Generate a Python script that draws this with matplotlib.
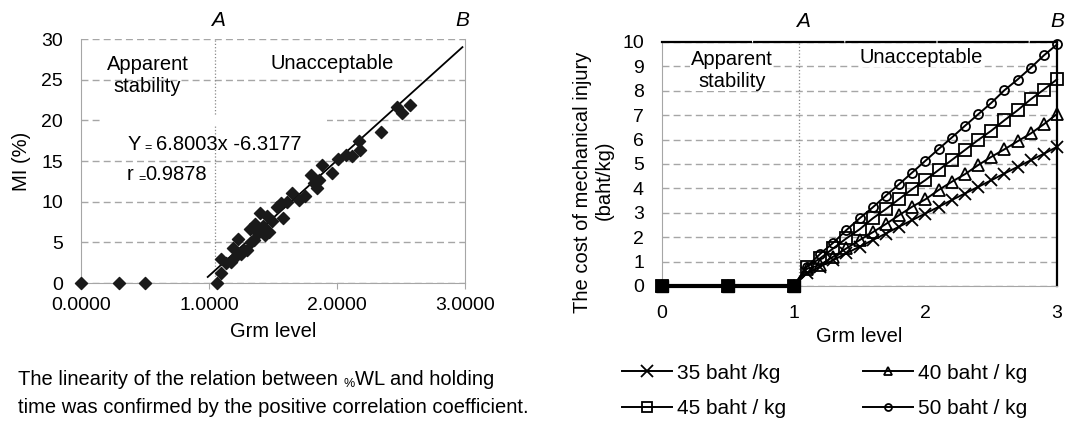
import matplotlib
matplotlib.use("Agg")
import matplotlib.pyplot as plt
from matplotlib.lines import Line2D

plt.rcParams['font.family'] = ['Liberation Sans', 'DejaVu Sans']

# ---------------- data ----------------
mi_x = [0.0, 0.294, 0.499, 1.065, 1.09, 1.09, 1.13, 1.17, 1.19, 1.21, 1.23, 1.25, 1.27, 1.30,
        1.32, 1.33, 1.35, 1.36, 1.38, 1.40, 1.41, 1.42, 1.44, 1.45, 1.47, 1.49, 1.53, 1.56,
        1.58, 1.61, 1.65, 1.70, 1.75, 1.80, 1.82, 1.84, 1.86, 1.88, 1.96, 2.01, 2.07, 2.12,
        2.17, 2.18, 2.34, 2.47, 2.51, 2.57]
mi_y = [0, 0, 0, 0, 1.2, 2.9, 2.4, 2.6, 4.3, 3.3, 5.4, 3.6, 4.0, 4.1, 6.6, 5.0, 5.3, 7.2,
        6.1, 8.6, 6.4, 7.0, 5.9, 8.2, 6.3, 7.6, 9.4, 9.8, 8.0, 10.0, 11.1, 10.2, 10.7, 13.3,
        12.3, 11.7, 12.7, 14.5, 13.5, 15.2, 15.7, 15.6, 17.4, 16.4, 18.6, 21.7, 20.9, 21.9]
trend_x = [0.99, 2.98]
trend_y = [0.74, 29.0]
left_xticks = [0.0, 1.0, 2.0, 3.0]
left_xticklabels = ['0.0000', '1.0000', '2.0000', '3.0000']
left_yticks = [0, 5, 10, 15, 20, 25, 30]
boundary_a = 1.05

grm = [0, 0.5, 1.0, 1.1, 1.2, 1.3, 1.4, 1.5, 1.6, 1.7, 1.8, 1.9, 2.0,
       2.1, 2.2, 2.3, 2.4, 2.5, 2.6, 2.7, 2.8, 2.9, 3.0]
cost_35 = [0, 0, 0, 0.52, 0.79, 1.06, 1.34, 1.61, 1.88, 2.15, 2.43, 2.70, 2.97,
           3.24, 3.52, 3.79, 4.06, 4.33, 4.61, 4.88, 5.15, 5.42, 5.70]
cost_40 = [0, 0, 0, 0.70, 0.86, 1.20, 1.54, 1.88, 2.20, 2.54, 2.90, 3.25, 3.55,
           3.93, 4.27, 4.58, 4.95, 5.29, 5.60, 5.93, 6.25, 6.63, 7.05]
cost_45 = [0, 0, 0, 0.79, 1.13, 1.54, 1.95, 2.32, 2.77, 3.15, 3.56, 3.97, 4.34,
           4.75, 5.16, 5.57, 5.98, 6.36, 6.79, 7.20, 7.65, 8.05, 8.47]
cost_50 = [0, 0, 0, 0.79, 1.31, 1.77, 2.29, 2.77, 3.22, 3.70, 4.17, 4.65, 5.13,
           5.61, 6.08, 6.56, 7.03, 7.50, 8.02, 8.46, 8.94, 9.45, 9.90]
series_labels = ['35 baht /kg', '40 baht / kg', '45 baht / kg', '50 baht / kg']
series_markers = ['x', '^', 's', 'o']
right_xticks = [0, 1, 2, 3]
right_yticks = list(range(0, 11))

# ---------------- figure ----------------
W, H = 1067, 421
fig = plt.figure(figsize=(W / 100, H / 100), dpi=100)

def box(l, t, r, b):
    return [l / W, 1 - b / H, (r - l) / W, (b - t) / H]

FS = 14.5
grid_c = '#a6a6a6'


def composite(ax, x, y, parts, transform):
    """Draw consecutive text pieces (text, size, gap in points) on one baseline."""
    s0, f0, _ = parts[0]
    prev = ax.text(x, y, s0, fontsize=f0, va='baseline', ha='left', transform=transform)
    big = f0
    for s, f, gap in parts[1:]:
        shift = 0.21 * (f - big) * 0.6
        prev = ax.annotate(s, xy=(1, 0), xycoords=prev, xytext=(gap, shift),
                           textcoords='offset points', fontsize=f, va='bottom', ha='left',
                           annotation_clip=False)
        big = f
    return prev


# ---------- left panel ----------
ax1 = fig.add_axes(box(81, 39, 465, 283))
ax1.set_xlim(0, 3)
ax1.set_ylim(0, 30)
ax1.set_xticks(left_xticks)
ax1.set_xticklabels(left_xticklabels)
ax1.set_yticks(left_yticks)
ax1.yaxis.grid(True, color=grid_c, linestyle=(0, (5, 3)), linewidth=1.0)
ax1.set_axisbelow(True)
for s in ['left', 'bottom', 'right']:
    ax1.spines[s].set_color(grid_c)
ax1.spines['top'].set_visible(False)
ax1.tick_params(axis='y', length=0, labelsize=14, pad=13)
ax1.tick_params(axis='x', length=4, color=grid_c, labelsize=14, pad=6, direction='out')
ax1.axvline(boundary_a, color='#888888', linestyle=':', linewidth=0.9, zorder=1)
# white patch (label box) hiding part of the 20 % gridline
ax1.add_patch(plt.Rectangle((0.15, 19.3), 1.77, 1.4, facecolor='white', edgecolor='none', zorder=1.5))
ax1.plot(trend_x, trend_y, color='black', linewidth=1.3, zorder=3)
ax1.scatter(mi_x, mi_y, marker='D', s=38, color='#1a1a1a', zorder=4, clip_on=False)
ax1.set_xlabel('Grm level', fontsize=FS, labelpad=6)
ax1.set_ylabel('MI (%)', fontsize=FS)
ax1.yaxis.set_label_coords(-0.13, 0.5)
ax1.text(0.52, 25.5, 'Apparent\nstability', ha='center', va='center', fontsize=FS, linespacing=1.2)
ax1.text(1.96, 27.0, 'Unacceptable', ha='center', va='center', fontsize=FS)
composite(ax1, 0.36, 16.4, [('Y', FS, 0), ('=', 9, 3), ('6.8003x -6.3177', FS, 3)], ax1.transData)
composite(ax1, 0.36, 12.7, [('r', FS, 0), ('=', 9, 3), ('0.9878', FS, 0)], ax1.transData)
ax1.text(1.07, 32.3, 'A', ha='center', va='center', fontsize=15, style='italic')
ax1.text(2.98, 32.3, 'B', ha='center', va='center', fontsize=15, style='italic')

composite(ax1, 18 / W, 1 - 385 / H,
          [('The linearity of the relation between', FS, 0), ('%', 9, 4), ('WL and holding', FS, 0)],
          fig.transFigure)
fig.text(18 / W, 1 - 413 / H, 'time was confirmed by the positive correlation coefficient.',
         ha='left', va='baseline', fontsize=FS)

# ---------- right panel ----------
ax2 = fig.add_axes(box(662, 42, 1057, 286))
ax2.set_xlim(0, 3)
ax2.set_ylim(0, 10)
ax2.set_xticks(right_xticks)
ax2.set_yticks(right_yticks)
ax2.yaxis.grid(True, color=grid_c, linestyle=(0, (5, 3)), linewidth=1.0)
ax2.set_axisbelow(True)
ax2.spines['left'].set_color(grid_c)
ax2.spines['bottom'].set_color(grid_c)
ax2.spines['right'].set_color('black')
ax2.spines['right'].set_linewidth(1.6)
ax2.spines['top'].set_color('black')
ax2.spines['top'].set_linewidth(1.6)
ax2.spines['top'].set_linestyle((0, (40, 1.5)))
ax2.tick_params(axis='y', length=0, labelsize=14, pad=13)
ax2.tick_params(axis='x', length=0, labelsize=14, pad=14)
ax2.axvline(1.04, color='#888888', linestyle=':', linewidth=0.9, zorder=1)

all_costs = [cost_35, cost_40, cost_45, cost_50]
msizes = [8, 8, 8, 6.5]
for vals, mk, lab, ms in zip(all_costs, series_markers, series_labels, msizes):
    ax2.plot(grm, vals, color='black', linewidth=1.4, marker=mk, markersize=ms,
             markerfacecolor='none', markeredgecolor='black', markeredgewidth=1.3,
             label=lab, clip_on=False, zorder=3)
# overlapping markers in the zero region appear as solid squares
ax2.plot(grm[:3], cost_35[:3], color='black', linewidth=3, marker='s', markersize=9,
         markerfacecolor='black', clip_on=False, zorder=4)

ax2.set_xlabel('Grm level', fontsize=FS, labelpad=3)
ax2.text(0.53, 8.85, 'Apparent\nstability', ha='center', va='center', fontsize=FS,
         linespacing=1.2, bbox=dict(facecolor='white', edgecolor='none', pad=0.5))
ax2.text(1.97, 9.38, 'Unacceptable', ha='center', va='center', fontsize=FS,
         bbox=dict(facecolor='white', edgecolor='none', pad=0.5))
ax2.text(1.07, 10.85, 'A', ha='center', va='center', fontsize=15, style='italic')
ax2.text(3.0, 10.85, 'B', ha='center', va='center', fontsize=15, style='italic')

fig.text(582 / W, 1 - 182 / H, 'The cost of mechanical injury', rotation=90,
         ha='center', va='center', fontsize=FS)
fig.text(604 / W, 1 - 180 / H, '(baht/kg)', rotation=90,
         ha='center', va='center', fontsize=FS)

leg_sizes = [8, 6, 7, 5]
handles = [Line2D([], [], color='black', linewidth=1.4, marker=mk, markersize=ms,
                  markerfacecolor='none', markeredgecolor='black', markeredgewidth=1.3)
           for mk, ms in zip(series_markers, leg_sizes)]
order = [0, 2, 1, 3]   # fill rows: 35 | 40 / 45 | 50
fig.legend([handles[i] for i in order], [series_labels[i] for i in order], ncol=2,
           loc='upper left', bbox_to_anchor=(603 / W, 1 - 345 / H), frameon=False,
           fontsize=15, handlelength=2.4, handletextpad=0.25, columnspacing=3.7,
           labelspacing=0.8, borderpad=0.4)

fig.savefig('out.png', dpi=100)
